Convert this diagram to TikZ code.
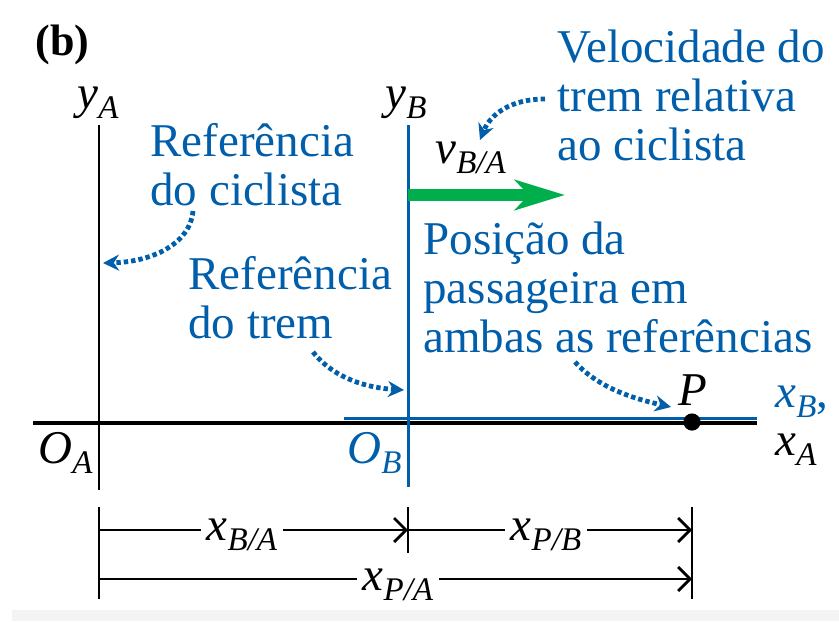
\documentclass[tikz,border=0pt]{standalone}
\usepackage{fontspec}
\newfontfamily\diagfont{Liberation Serif}
\usetikzlibrary{arrows.meta,positioning}
\definecolor{colFrameB}{RGB}{0,94,170}
\definecolor{colVel}{RGB}{0,175,75}
\definecolor{colStrip}{RGB}{244,244,244}
\newcommand{\vsub}[2]{\textit{#1}\raisebox{-0.22em}{\fontsize{16.5}{16.5}\selectfont\textit{#2}}}
\tikzset{
    lbl/.style={font=\diagfont\fontsize{23.5}{24.5}\selectfont, inner sep=0pt},
    note/.style={lbl, colFrameB, align=left, anchor=north west},
    pointer/.style={colFrameB, line width=2.4pt, dash pattern=on 2.2pt off 1.5pt,
        -{Stealth[length=8pt,width=8pt]}},
    dim/.style={line width=1.4pt, -{Straight Barb[length=6pt,width=12pt]}},
    dimlbl/.style={lbl, anchor=base, fill=white, inner xsep=3pt},
}

\begin{document}
\begin{tikzpicture}[x=0.5pt, y=-0.5pt]
    \useasboundingbox (0,0) rectangle (839,621);
    \fill[colStrip] (12,610) rectangle (839,621);

    % axes of both frames
    \coordinate (OA) at (99,423);
    \coordinate (OB) at (408,423);
    \coordinate (P) at (692,422);
    \draw[line width=1pt] (99,125) -- (99,490);
    \draw[line width=1.6pt] (33,423) -- (757,423);
    \draw[colFrameB, line width=1.5pt] (344,418) -- (757,418);
    \draw[colFrameB, line width=1.5pt] (408,125) -- (408,487);
    \draw[colVel, line width=6pt, -{Stealth[length=25pt,width=15pt,inset=7pt]}]
        (408,195) -- (565,195);
    \fill (P) circle[radius=4.3pt];

    % axis labels
    \node[lbl, font=\diagfont\fontsize{22}{24}\selectfont\bfseries, anchor=base west] (tag) at (35,55) {(b)};
    \node[lbl, anchor=base west] (yA) at (77,108) {\vsub{y}{A}};
    \node[lbl, anchor=base west] (yB) at (385,108) {\vsub{y}{B}};
    \node[lbl, anchor=base west] (vBA) at (435,163) {\vsub{v}{B/A}};
    \node[lbl, anchor=base west] (OAlbl) at (38,463) {\vsub{O}{A}};
    \node[lbl, colFrameB, anchor=base west] (OBlbl) at (347,463) {\vsub{O}{B}};
    \node[lbl, anchor=base west] (Plbl) at (678,405) {\textit{P}};
    \node[lbl, colFrameB, anchor=base west] (xB) at (775,407) {\vsub{x}{B},};
    \node[lbl, anchor=base west] (xA) at (775,455) {\vsub{x}{A}};

    % notes
    \node[note] (velNote) at (557,29) {Velocidade do\\trem relativa\\ao ciclista};
    \node[note] (cicNote) at (150,123) {Referência\\do ciclista};
    \node[note] (tremNote) at (188,256) {Referência\\do trem};
    \node[note] (posNote) at (423,221) {Posição da\\passageira em\\ambas as referências};

    % dotted pointers
    \coordinate (velStart) at (545,99);
    \coordinate (velTip) at (480,140);
    \coordinate (cicStart) at (193,211);
    \coordinate (cicTip) at (103,263);
    \coordinate (tremStart) at (313,352);
    \coordinate (tremTip) at (404,390);
    \coordinate (posStart) at (575,362);
    \coordinate (posTip) at (671,407);
    \draw[pointer] (velStart) .. controls (510,99) and (490,115) .. (velTip);
    \draw[pointer] (cicStart) .. controls (190,245) and (150,262) .. (cicTip);
    \draw[pointer] (tremStart) .. controls (335,380) and (370,388) .. (tremTip);
    \draw[pointer] (posStart) .. controls (600,390) and (640,400) .. (posTip);

    % distances
    \coordinate (dA1) at (99,530);
    \coordinate (dB1) at (408,530);
    \coordinate (dP1) at (692,530);
    \coordinate (dA2) at (99,579);
    \coordinate (dP2) at (692,579);
    \draw[line width=1pt] (99,507) -- (99,599);
    \draw[line width=1pt] (408,507) -- (408,553);
    \draw[line width=1pt] (692,507) -- (692,599);
    \draw[dim] (dA1) -- (dB1);
    \draw[dim] (dB1) -- (dP1);
    \draw[dim] (dA2) -- (dP2);
    \node[dimlbl] (xBA) at (242,540) {\vsub{x}{B/A}};
    \node[dimlbl] (xPB) at (546,540) {\vsub{x}{P/B}};
    \node[dimlbl] (xPA) at (398,590) {\vsub{x}{P/A}};
\end{tikzpicture}
\end{document}
